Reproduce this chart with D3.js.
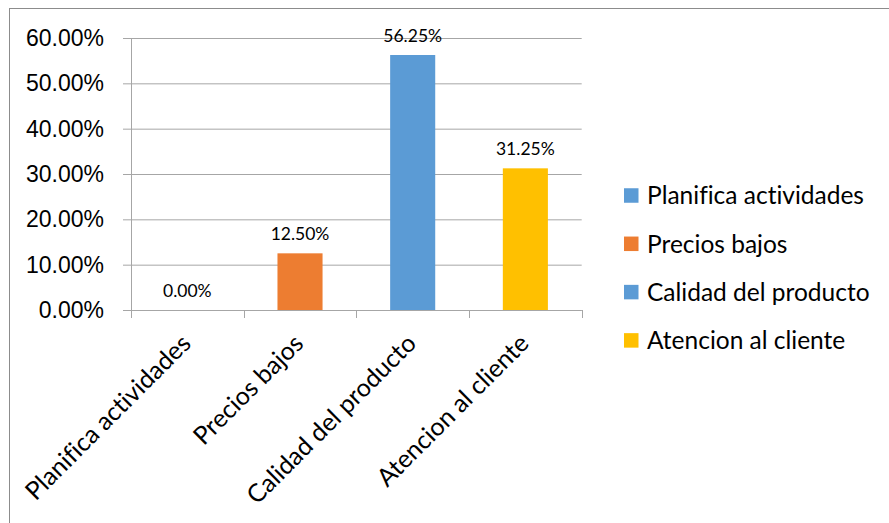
<!DOCTYPE html>
<html>
<head>
<meta charset="utf-8">
<script src="https://cdn.jsdelivr.net/npm/d3@7"></script>
<style>
  html, body { margin: 0; padding: 0; background: #fff; }
  svg { display: block; font-family: Lato, "Open Sans", sans-serif; font-variant-ligatures: none; }
</style>
</head>
<body>
<svg id="chart" width="889" height="523"></svg>
<script>
// Survey result: share of answers per factor
const categories = ["Planifica actividades", "Precios bajos", "Calidad del producto", "Atencion al cliente"];
const values = [0.0, 0.125, 0.5625, 0.3125];
const colors = ["#5b9bd5", "#ed7d31", "#5b9bd5", "#ffc000"];
const yTicks = [0, 0.1, 0.2, 0.3, 0.4, 0.5, 0.6];

const svg = d3.select("#chart");
const gridColor = "#a6a6a6";
const plot = { left: 131, right: 581.7, top: 38, bottom: 310 };

// outer chart frame
svg.append("rect")
  .attr("x", 9.5).attr("y", 8.5)
  .attr("width", 900).attr("height", 600)
  .attr("fill", "#fff").attr("stroke", "#8c8c8c").attr("stroke-width", 1);

const x = d3.scaleBand()
  .domain(categories)
  .range([plot.left, plot.right])
  .paddingInner(0.6)
  .paddingOuter(0.3);

const y = d3.scaleLinear()
  .domain([0, 0.6])
  .range([plot.bottom, plot.top]);

const pct = d3.format(".2%");

// value axis with gridlines
const yAxis = svg.append("g")
  .attr("transform", `translate(${plot.left},0)`)
  .call(d3.axisLeft(y).tickValues(yTicks).tickFormat(pct).tickSize(8).tickPadding(19));
yAxis.select(".domain").attr("stroke", gridColor).attr("d", `M0.5,${plot.top}V${plot.bottom}`);
yAxis.selectAll(".tick line")
  .attr("stroke", gridColor)
  .attr("x1", -8).attr("x2", plot.right - plot.left);
yAxis.selectAll(".tick text")
  .attr("fill", "#000")
  .style("font-size", "23px");

// category axis: baseline and tick marks on the band boundaries
const step = x.step();
const bounds = d3.range(categories.length + 1).map(i => plot.left + i * step);

const xAxis = svg.append("g")
  .attr("transform", `translate(0,${plot.bottom})`)
  .call(d3.axisBottom(x).tickSize(0).tickFormat(""));
xAxis.select(".domain").attr("stroke", gridColor).attr("d", `M${plot.left},0.5H${plot.right}`);

svg.append("g").selectAll("line")
  .data(bounds)
  .join("line")
  .attr("x1", d => Math.round(d) + 0.5).attr("x2", d => Math.round(d) + 0.5)
  .attr("y1", plot.bottom).attr("y2", plot.bottom + 8)
  .attr("stroke", gridColor);

// rotated category labels
svg.append("g").selectAll("text")
  .data(categories)
  .join("text")
  .attr("transform", d => `translate(${x(d) + x.bandwidth() / 2 + 5},${plot.bottom + 35}) rotate(-45)`)
  .attr("text-anchor", "end")
  .style("font-size", "25px")
  .attr("fill", "#000")
  .text(d => d);

// bars
svg.append("g").selectAll("rect")
  .data(categories)
  .join("rect")
  .attr("x", d => x(d))
  .attr("width", x.bandwidth())
  .attr("y", (d, i) => y(values[i]))
  .attr("height", (d, i) => y(0) - y(values[i]))
  .attr("fill", (d, i) => colors[i]);

// value labels
svg.append("g").selectAll("text")
  .data(categories)
  .join("text")
  .attr("x", d => x(d) + x.bandwidth() / 2)
  .attr("y", (d, i) => y(values[i]) - 13)
  .attr("text-anchor", "middle")
  .style("font-size", "17.5px")
  .attr("fill", "#000")
  .text((d, i) => pct(values[i]));

// legend
const legend = svg.append("g").selectAll("g")
  .data(categories)
  .join("g")
  .attr("transform", (d, i) => `translate(624,${195.5 + i * 48.3})`);
legend.append("rect")
  .attr("x", 0).attr("y", -7.25)
  .attr("width", 14.5).attr("height", 14.5)
  .attr("fill", (d, i) => colors[i]);
legend.append("text")
  .attr("x", 23).attr("y", 0)
  .attr("dy", "0.36em")
  .style("font-size", "24.5px")
  .attr("fill", "#000")
  .text(d => d);
</script>
</body>
</html>
